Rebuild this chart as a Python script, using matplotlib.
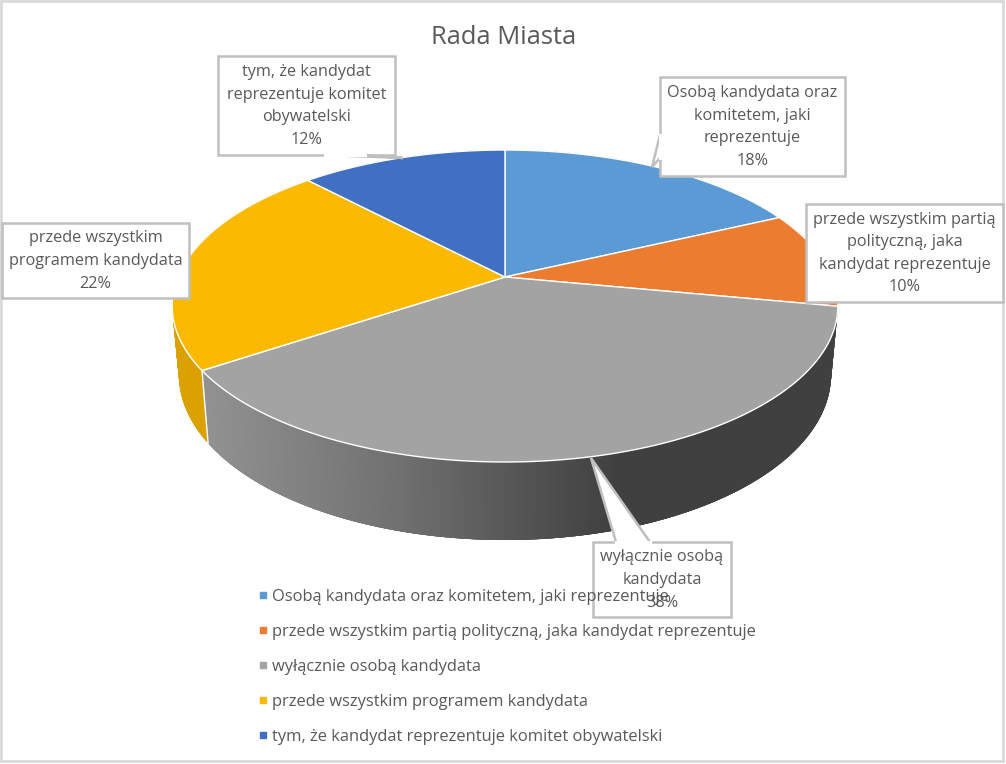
import numpy as np
import matplotlib
matplotlib.use("Agg")
from matplotlib import pyplot as plt
from matplotlib.collections import PolyCollection
from matplotlib.lines import Line2D
from matplotlib.patches import Polygon, Rectangle

title = "Rada Miasta"
categories = [
    "Osobą kandydata oraz komitetem, jaki reprezentuje",
    "przede wszystkim partią polityczną, jaka kandydat reprezentuje",
    "wyłącznie osobą kandydata",
    "przede wszystkim programem kandydata",
    "tym, że kandydat reprezentuje komitet obywatelski",
]
shares = [18, 10, 37.6, 22.4, 12]
colors = ["#5B9AD5", "#EB7C30", "#A3A3A3", "#FBB900", "#4170C2"]
label_lines = [
    "Osobą kandydata oraz\nkomitetem, jaki\nreprezentuje",
    "przede wszystkim partią\npolityczną, jaka\nkandydat reprezentuje",
    "wyłącznie osobą\nkandydata",
    "przede wszystkim\nprogramem kandydata",
    "tym, że kandydat\nreprezentuje komitet\nobywatelski",
]
# callout boxes: x0, y0, x1, y1, pointer tip, pointer base
boxes = [
    (660, 77, 845, 176, (652, 167), [(660, 135), (660, 158)]),
    (806, 204, 1003, 302, None, None),
    (593, 542, 731, 617, (591, 458), [(616, 542), (650, 542)]),
    (2, 223, 189, 298, None, None),
    (218, 56, 395, 155, (403, 158), [(325, 155), (365, 155)]),
]

TEXT = "#595959"
EDGE = "#BFBFBF"
plt.rcParams["font.family"] = ["Open Sans", "DejaVu Sans"]

# perspective of the pie, pixels
CX, CY = 505, 277
A, B, K = 327, 150.6, 0.186


def top_rim(ang):
    u, v = np.sin(ang), np.cos(ang)
    w = 1 + K * v
    return CX + A * u / w, CY - B * v / w


def bottom_rim(ang):
    x, y = top_rim(ang)
    return CX + (x - CX) * 0.98, y + 66 - 12 * np.cos(ang)


def wall_color(i, x):
    if i == 2:
        # the big slice has a grey ramp along its wall
        g = np.interp(x, [205, 400, 595, 620], [0.57, 0.44, 0.27, 0.25])
        return (g, g, g)
    return tuple(np.array(matplotlib.colors.to_rgb(colors[i])) * 0.87)


fig = plt.figure(figsize=(10.06, 7.64), dpi=100)
ax = fig.add_axes([0, 0, 1, 1])
ax.set_xlim(0, 1006)
ax.set_ylim(764, 0)
ax.axis("off")
ax.add_patch(Rectangle((1, 1), 1002.5, 760, fc="white", ec="#D9D9D9", lw=2, zorder=0))

edges = np.radians(np.cumsum([0] + shares) / sum(shares) * 360)

# walls first, tops go over them. strips overlap so no seams show
for i in range(len(shares)):
    angs = np.linspace(edges[i], edges[i + 1], 300)
    xt, yt = top_rim(angs)
    xb, yb = bottom_rim(angs)
    quads, cols = [], []
    for j in range(len(angs) - 1):
        k = min(j + 4, len(angs) - 1)
        quads.append([(xt[j], yt[j]), (xt[k], yt[k]), (xb[k], yb[k]), (xb[j], yb[j])])
        cols.append(wall_color(i, xt[j]))
    ax.add_collection(PolyCollection(quads, facecolors=cols, edgecolors="none", zorder=1), autolim=False)

# only the front left joint shows a white line on the wall
for a in edges:
    if np.cos(a) < 0 and np.sin(a) < 0:
        xt, yt = top_rim(a)
        xb, yb = bottom_rim(a)
        ax.plot([xt, xb], [yt, yb], color="white", lw=1, zorder=1.5)

for i in range(len(shares)):
    angs = np.linspace(edges[i], edges[i + 1], 120)
    x, y = top_rim(angs)
    ax.fill(np.r_[CX, x], np.r_[CY, y], fc=colors[i], ec="white", lw=1, zorder=2, joinstyle="round")

# data labels
for i, (x0, y0, x1, y1, tip, base) in enumerate(boxes):
    ax.add_patch(Rectangle((x0, y0), x1 - x0, y1 - y0, fc="white", ec=EDGE, lw=1.8, zorder=3))
    if tip is not None:
        ax.add_patch(Polygon([base[0], tip, base[1]], closed=False, fc="white", ec=EDGE, lw=1.8, zorder=3.1))
        ax.plot([base[0][0], base[1][0]], [base[0][1], base[1][1]], color="white", lw=2.2, zorder=3.2)
    ax.text((x0 + x1) / 2, (y0 + y1) / 2 + 0.5, f"{label_lines[i]}\n{shares[i]:.0f}%", ha="center", va="center",
            color=TEXT, fontsize=11.7, linespacing=1.55, zorder=6)

ax.text(504, 37, title, ha="center", va="center", color=TEXT, fontsize=18.4)

handles = [Line2D([], [], ls="", marker="s", ms=5, color=c) for c in colors]
ax.legend(handles, categories, loc="upper left", bbox_to_anchor=(257, 589), bbox_transform=ax.transData,
          frameon=False, fontsize=11.9, labelcolor=TEXT, labelspacing=1.145, handlelength=0.7,
          handletextpad=0.2, borderpad=0, borderaxespad=0).set_zorder(5)

fig.savefig("out.png", dpi=100)
